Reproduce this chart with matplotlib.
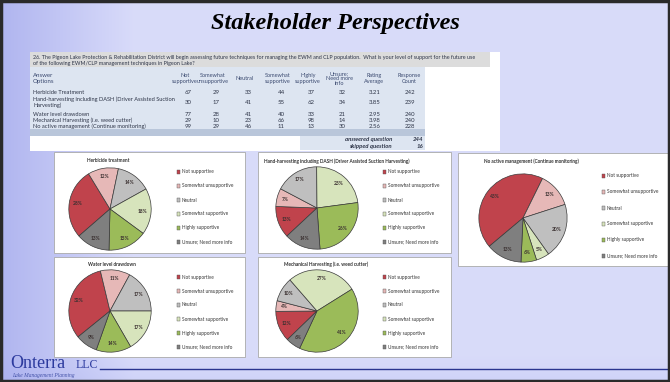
import numpy as np
import matplotlib
matplotlib.use('Agg')
import matplotlib.pyplot as plt
from matplotlib.patches import Rectangle

W, H = 670, 382

# ---- survey table data ----
question = ["26. The Pigeon Lake Protection & Rehabilitation District will begin assessing future techniques for managing the EWM and CLP population.  What is your level of support for the future use",
            "of the following EWM/CLP management techniques in Pigeon Lake?"]
col_headers = ["Not\nsupportive", "Somewhat\nunsupportive", "Neutral", "Somewhat\nsupportive",
               "Highly\nsupportive", "Unsure;\nNeed more\ninfo", "Rating\nAverage", "Response\nCount"]
answer_options = ["Herbicide Treatment",
                  "Hand-harvesting including DASH (Driver Assisted Suction\nHarvesting)",
                  "Water level drawdown",
                  "Mechanical Harvesting (i.e. weed cutter)",
                  "No active management (Continue monitoring)"]
herbicide = [67, 29, 33, 44, 37, 32]
hand_harvest = [30, 17, 41, 55, 62, 34]
drawdown = [77, 28, 41, 40, 33, 21]
mechanical = [29, 10, 23, 66, 98, 14]
no_action = [99, 29, 46, 11, 13, 30]
rating_avg = [3.21, 3.85, 2.95, 3.98, 2.56]
response_count = [242, 239, 240, 240, 228]
answered, skipped = 244, 16

# ---- pie chart data ----
categories = ["Not supportive", "Somewhat unsupportive", "Neutral", "Somewhat supportive",
              "Highly supportive", "Unsure; Need more info"]
pie_titles = ["Herbicide treatment",
              "Hand-harvesting including DASH (Driver Assisted Suction Harvesting)",
              "Water level drawdown",
              "Mechanical Harvesting (i.e. weed cutter)",
              "No active management (Continue monitoring)"]
pct_herbicide = ["28%", "12%", "14%", "18%", "15%", "13%"]
pct_hand = ["13%", "7%", "17%", "23%", "26%", "14%"]
pct_drawdown = ["32%", "11%", "17%", "17%", "14%", "9%"]
pct_mechanical = ["12%", "4%", "10%", "27%", "41%", "6%"]
pct_no_action = ["43%", "13%", "20%", "5%", "6%", "13%"]

colors = ['#c0434c', '#e6b8b7', '#bfbfbf', '#d7e4bc', '#9bbb59', '#7f7f7f']
txt = '#2e3548'
FONT = 'Lato'

fig = plt.figure(figsize=(6.7, 3.82), dpi=100)
bg = fig.add_axes([0, 0, 1, 1])
bg.set_xlim(0, W)
bg.set_ylim(H, 0)
bg.axis('off')

# slide background gradient
xx = np.linspace(0, 1, W)
yy = np.linspace(0, 1, H)
t = np.clip(xx / 0.2, 0, 1)[None, :, None]
left = np.array([0.69, 0.71, 0.94])
right = np.array([0.85, 0.86, 0.98])
img = left * (1 - t) + right * t
img = np.repeat(img, H, axis=0)
vb = np.clip((yy - 0.93) / 0.07, 0, 1)[:, None, None]
img = img * (1 - 0.12 * vb) + np.array([0.55, 0.6, 0.92]) * 0.12 * vb
bg.imshow(img, extent=[0, W, H, 0], aspect='auto', zorder=0)
bg.add_patch(Rectangle((1, 1), W - 2, H - 2, fill=False, ec='#2a2a2a', lw=2.5, zorder=10))

bg.text(335, 24, "Stakeholder Perspectives", family='Liberation Serif', weight='bold',
        style='italic', fontsize=17.5, ha='center', va='center', color='black')

# ---- table ----
bg.add_patch(Rectangle((30, 52), 470, 99, fc='white', ec='none', zorder=1))
bg.add_patch(Rectangle((30, 52), 460, 15, fc='#dcdcdc', ec='none', zorder=1))
bg.add_patch(Rectangle((30, 67), 395, 62, fc='#dde5f1', ec='none', zorder=1))
bg.add_patch(Rectangle((30, 129), 395, 7, fc='#b9c6da', ec='none', zorder=1))
bg.add_patch(Rectangle((300, 136), 125, 14, fc='#dde5f1', ec='none', zorder=1))
for i, line in enumerate(question):
    bg.text(33, 57 + 6 * i, line, family=FONT, fontsize=3.85, color=txt, va='center', zorder=2)
bg.text(33, 78.5, "Answer\nOptions", family=FONT, fontsize=4.4, color='#3b4a70',
        va='center', linespacing=1.1, zorder=2)
col_x = [185, 213, 245, 278, 308, 339, 374, 409]
for x, h in zip(col_x, col_headers):
    bg.text(x, 78.5, h, family=FONT, fontsize=4.0, color='#3b4a70', ha='center',
            va='center', linespacing=1.05, zorder=2)
row_y = [93, 102.5, 114, 120, 126]
rows = [herbicide, hand_harvest, drawdown, mechanical, no_action]
for y, name, vals, ra, rc in zip(row_y, answer_options, rows, rating_avg, response_count):
    bg.text(33, y, name, family=FONT, fontsize=4.1, color=txt, va='center',
            linespacing=1.2, zorder=2)
    for x, v in zip(col_x[:6], vals):
        bg.text(x + 3, y, str(v), family=FONT, fontsize=4.3, color=txt, ha='center', va='center', zorder=2)
    bg.text(col_x[6] + 1, y, f"{ra:.2f}", family=FONT, fontsize=4.3, color=txt, ha='center', va='center', zorder=2)
    bg.text(col_x[7] + 1, y, str(rc), family=FONT, fontsize=4.3, color=txt, ha='center', va='center', zorder=2)
for y, lab, v in [(139.5, "answered question", answered), (146.5, "skipped question", skipped)]:
    bg.text(392, y, lab, family=FONT, fontsize=4.3, color=txt, ha='right', va='center',
            style='italic', weight='bold', zorder=2)
    bg.text(423, y, str(v), family=FONT, fontsize=4.3, color=txt, ha='right', va='center',
            style='italic', weight='bold', zorder=2)

# ---- pie panels ----
panels = [
    # box (x, y, w, h), pie centre, radius, legend x, legend y0, legend step, title x, title y
    ((54, 152, 191, 101), (110, 209), 42, 177, 172, 14, 108, 161),
    ((258, 152, 193, 101), (317, 208), 42, 383, 172, 14, 337, 161),
    ((54, 257, 191, 100), (110, 311), 42, 177, 277, 14, 112, 264),
    ((258, 257, 193, 100), (317, 311), 42, 383, 277, 14, 326, 264),
    ((458, 153, 210, 113), (523, 218), 45, 602, 176, 16, 531, 161),
]
pie_counts = [herbicide, hand_harvest, drawdown, mechanical, no_action]
pie_pcts = [pct_herbicide, pct_hand, pct_drawdown, pct_mechanical, pct_no_action]
start_angles = [-139, -137, -141, -136, -140]

for (box, (cx, cy), r, lx, ly0, lstep, tx, ty), counts, pcts, title, sa in zip(
        panels, pie_counts, pie_pcts, pie_titles, start_angles):
    bx, by, bw, bh = box
    bg.add_patch(Rectangle((bx, by), bw, bh, fc='white', ec='#a9a9a9', lw=0.6, zorder=3))
    bg.text(tx, ty, title, family=FONT, fontsize=3.4, weight='bold', color='#333333',
            ha='center', va='center', zorder=4)
    for i, (cat, c) in enumerate(zip(categories, colors)):
        y = ly0 + lstep * i
        bg.add_patch(Rectangle((lx, y - 1.6), 3.2, 3.2, fc=c, ec='#555555', lw=0.3, zorder=4))
        bg.text(lx + 5, y, cat, family=FONT, fontsize=3.4, color='#333333', va='center', zorder=4)

    ax = fig.add_axes([(cx - r) / W, 1 - (cy + r) / H, 2 * r / W, 2 * r / H])
    wedges, _ = ax.pie(counts, colors=colors, startangle=sa, counterclock=False,
                       wedgeprops=dict(edgecolor='#3a3a3a', linewidth=0.5))
    for w, p in zip(wedges, pcts):
        ang = np.deg2rad((w.theta1 + w.theta2) / 2)
        ax.text(0.8 * np.cos(ang), 0.8 * np.sin(ang), p, family=FONT, fontsize=3.5,
                weight='bold', color='#3a3030', ha='center', va='center')
    ax.set_xlim(-1.02, 1.02)
    ax.set_ylim(-1.02, 1.02)
    ax.axis('off')

# ---- logo / footer ----
bg.text(10, 368, "Onterra", family='Liberation Serif', fontsize=13, color='#2c3a9e',
        va='baseline', zorder=2)
bg.text(76, 368, "LLC", family='Liberation Serif', fontsize=8.5, color='#2c3a9e',
        va='baseline', zorder=2)
bg.text(12, 375, "Lake Management Planning", family='Liberation Serif', style='italic',
        fontsize=4, color='#4453a8', va='center', zorder=2)
bg.plot([100, 668], [369, 369], color='#2a3590', lw=1, zorder=2)

fig.savefig('out.png', dpi=100)
